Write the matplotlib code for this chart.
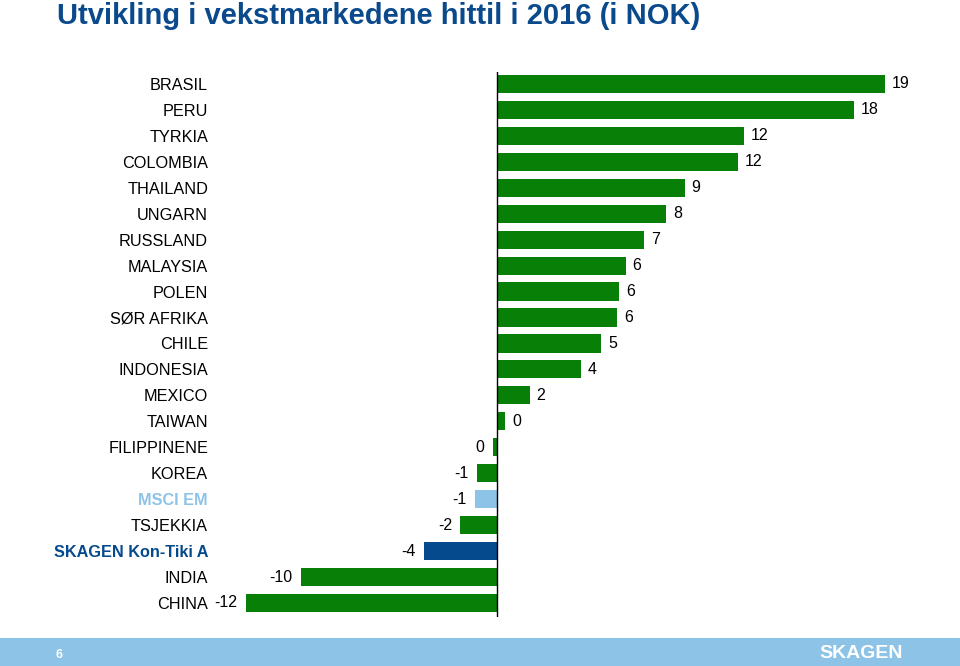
import matplotlib.pyplot as plt
import numpy as np

plt.rcParams['font.family'] = ['Liberation Sans', 'DejaVu Sans']

land = ['BRASIL', 'PERU', 'TYRKIA', 'COLOMBIA', 'THAILAND', 'UNGARN', 'RUSSLAND',
        'MALAYSIA', 'POLEN', 'SØR AFRIKA', 'CHILE', 'INDONESIA', 'MEXICO', 'TAIWAN',
        'FILIPPINENE', 'KOREA', 'MSCI EM', 'TSJEKKIA', 'SKAGEN Kon-Tiki A', 'INDIA', 'CHINA']
avkastning = [19.0, 17.5, 12.1, 11.8, 9.2, 8.3, 7.2, 6.3, 6.0, 5.9, 5.1, 4.1, 1.6, 0.4,
              -0.2, -1.0, -1.1, -1.8, -3.6, -9.6, -12.3]
etiketter = ['19', '18', '12', '12', '9', '8', '7', '6', '6', '6', '5', '4', '2', '0',
             '0', '-1', '-1', '-2', '-4', '-10', '-12']

gronn = '#088008'
lysebla = '#8cc3e6'
morkebla = '#044a8c'
farger = {'MSCI EM': lysebla, 'SKAGEN Kon-Tiki A': morkebla}

fig = plt.figure(figsize=(9.6, 6.66), dpi=100)
ax = fig.add_axes([240 / 960, 1 - 617 / 666, (920 - 240) / 960, (617 - 72) / 666])

y = np.arange(len(land))
cols = [farger.get(l, gronn) for l in land]
ax.barh(y, avkastning, height=0.7, color=cols)

for yi, v, t in zip(y, avkastning, etiketter):
    if v >= 0:
        ax.annotate(t, (v, yi), xytext=(5, 0), textcoords='offset points',
                    ha='left', va='center', fontsize=11.5)
    else:
        ax.annotate(t, (v, yi), xytext=(-6, 0), textcoords='offset points',
                    ha='right', va='center', fontsize=11.5)

ax.set_xlim(-(497 - 240) / 20.4, (920 - 497) / 20.4)
ax.set_ylim(20.54, -0.46)
ax.set_yticks(y)
ax.set_yticklabels(land, fontsize=11.7)
ax.tick_params(axis='y', length=0, pad=23)
for lbl in ax.get_yticklabels():
    if lbl.get_text() in farger:
        lbl.set_color(farger[lbl.get_text()])
        lbl.set_fontweight('bold')
ax.set_xticks([])
for s in ax.spines.values():
    s.set_visible(False)
ax.axvline(0, color='black', lw=1)

fig.text(57 / 960, 1 - 16 / 666, 'Utvikling i vekstmarkedene hittil i 2016 (i NOK)',
         fontsize=21, fontweight='bold', color='#0a4a8c', va='center')

# bunnfelt
band = fig.add_axes([0, 0, 1, 28 / 666])
band.set_facecolor(lysebla)
band.set_xticks([])
band.set_yticks([])
for s in band.spines.values():
    s.set_visible(False)
fig.text(56 / 960, 11 / 666, '6', color='white', fontsize=9, fontweight='bold', va='center')
fig.text(903 / 960, 12 / 666, 'SKAGEN', color='white', fontsize=14, fontweight='bold',
         ha='right', va='center')

plt.savefig('out.png', dpi=100)
